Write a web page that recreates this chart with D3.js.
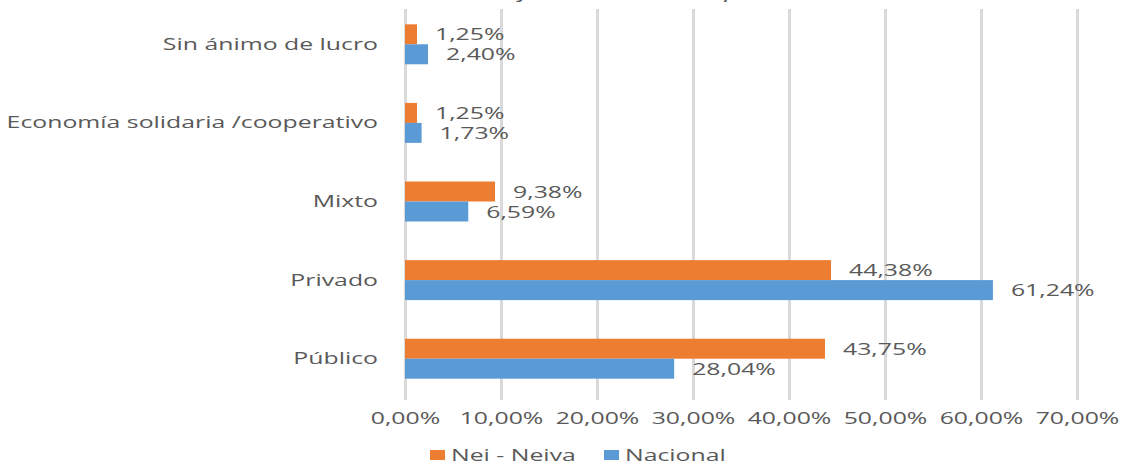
<!DOCTYPE html>
<html>
<head>
<meta charset="utf-8">
<script src="https://cdn.jsdelivr.net/npm/d3@7"></script>
<style>
    body { margin: 0; background: #fff; }
    text { font-family: "Open Sans", sans-serif; fill: #595959; }
</style>
</head>
<body>
<script>
// data
const categories = ['Sin ánimo de lucro', 'Economía solidaria /cooperativo', 'Mixto', 'Privado', 'Público'];
const seriesNames = ['Nei - Neiva', 'Nacional'];
const neiNeiva = [0.0125, 0.0125, 0.0938, 0.4438, 0.4375];
const nacional = [0.0240, 0.0173, 0.0659, 0.6124, 0.2804];
const xTicks = [0, 0.1, 0.2, 0.3, 0.4, 0.5, 0.6, 0.7];
const chartTitle = 'Naturaleza jurídica de la empresa';

const svgWidth = 1124;
const svgHeight = 462;
const colors = ['#ED7D31', '#5B9BD5'];
const S = 1.46; // the picture is stretched horizontally

const plot = {L: 405, R: 1077, T: 5, B: 398, gridTop: 9, gridBottom: 400};

const locale = d3.formatLocale({decimal: ',', thousands: '.', grouping: [3], currency: ['', '€']});
const pct = locale.format('.2%');

const svg = d3.select('body').append('svg')
    .attr('width', svgWidth)
    .attr('height', svgHeight);

// cut-off title at the very top
svg.append('text')
    .attr('transform', `translate(585,-2) scale(${S},1)`)
    .attr('text-anchor', 'middle')
    .style('font-size', '19px')
    .style('font-style', 'italic')
    .text(chartTitle);

const scaleX = d3.scaleLinear()
    .domain([0, 0.7])
    .range([plot.L, plot.R]);

const scaleY = d3.scaleBand()
    .domain(categories)
    .range([plot.T, plot.B]);

const scaleSeries = d3.scaleBand()
    .domain(seriesNames)
    .range([0, scaleY.bandwidth()])
    .paddingInner(0)
    .paddingOuter(0.967);

// gridlines + x axis
const xAxis = svg.append('g')
    .attr('transform', `translate(0, ${plot.gridBottom})`)
    .call(d3.axisBottom(scaleX)
        .tickValues(xTicks)
        .tickFormat(pct)
        .tickSize(-(plot.gridBottom - plot.gridTop))
        .tickPadding(12));
xAxis.select('.domain').remove();
xAxis.selectAll('.tick line').attr('stroke', '#D9D9D9').attr('stroke-width', 3);
xAxis.selectAll('.tick text')
    .style('font-size', '17px')
    .style('font-family', '"Open Sans", sans-serif')
    .attr('fill', '#595959')
    .attr('transform', `scale(${S},1)`);

// category axis
const yAxis = svg.append('g')
    .attr('transform', `translate(${plot.L}, 0)`)
    .call(d3.axisLeft(scaleY).tickSize(0));
yAxis.select('.domain').remove();
yAxis.selectAll('.tick text')
    .attr('x', 0)
    .style('font-size', '17px')
    .style('font-family', '"Open Sans", sans-serif')
    .attr('fill', '#595959')
    .attr('transform', `translate(-27,0) scale(${S},1)`);

// bars
const rows = categories.map((c, i) => ({cat: c, values: [neiNeiva[i], nacional[i]]}));
const flat = rows.flatMap(r => r.values.map((v, j) => ({cat: r.cat, series: seriesNames[j], idx: j, value: v})));

svg.append('g').classed('bars', true)
    .selectAll('rect')
    .data(flat)
    .join('rect')
    .attr('x', scaleX(0))
    .attr('y', d => scaleY(d.cat) + scaleSeries(d.series))
    .attr('width', d => scaleX(d.value) - scaleX(0))
    .attr('height', scaleSeries.bandwidth())
    .attr('fill', d => colors[d.idx]);

// data labels
svg.append('g').classed('labels', true)
    .selectAll('text')
    .data(flat)
    .join('text')
    .attr('transform', d => `translate(${scaleX(d.value) + 18}, ${scaleY(d.cat) + scaleSeries(d.series) + scaleSeries.bandwidth() / 2}) scale(${S},1)`)
    .attr('dy', '0.36em')
    .style('font-size', '17px')
    .text(d => pct(d.value));

// legend
const legendX = [430, 604];
const legend = svg.append('g').classed('legend', true)
    .selectAll('g')
    .data(seriesNames)
    .join('g')
    .attr('transform', (d, i) => `translate(${legendX[i]}, 450)`);
legend.append('rect')
    .attr('width', 15)
    .attr('height', 10)
    .attr('fill', (d, i) => colors[i]);
legend.append('text')
    .attr('transform', `translate(21, 5) scale(${S},1)`)
    .attr('dy', '0.36em')
    .style('font-size', '17px')
    .text(d => d);
</script>
</body>
</html>
